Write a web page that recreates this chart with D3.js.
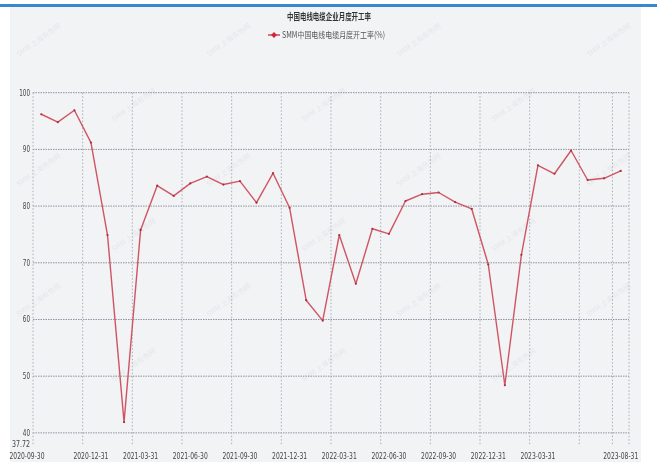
<!DOCTYPE html>
<html><head><meta charset="utf-8">
<script src="https://cdn.jsdelivr.net/npm/d3@7"></script>
<style>body{margin:0;background:#fff}svg{display:block}</style>
</head><body><div id="c"></div>
<script>
const title = "中国电线电缆企业月度开工率";
const seriesName = "SMM中国电线电缆月度开工率(%)";
const categories = ["2020-09-30","2020-10-31","2020-11-30","2020-12-31","2021-01-31","2021-02-28","2021-03-31","2021-04-30","2021-05-31","2021-06-30","2021-07-31","2021-08-31","2021-09-30","2021-10-31","2021-11-30","2021-12-31","2022-01-31","2022-02-28","2022-03-31","2022-04-30","2022-05-31","2022-06-30","2022-07-31","2022-08-31","2022-09-30","2022-10-31","2022-11-30","2022-12-31","2023-01-31","2023-02-28","2023-03-31","2023-04-30","2023-05-31","2023-06-30","2023-07-31","2023-08-31"];
const values = [96.2,94.8,96.9,91.2,74.9,41.9,75.8,83.6,81.8,84.0,85.2,83.8,84.4,80.6,85.8,79.7,63.4,59.8,74.9,66.3,76.0,75.1,80.9,82.1,82.4,80.7,79.5,69.7,48.4,71.4,87.2,85.7,89.8,84.6,84.9,86.2];
const gridCats = ["2020-09-30","2020-12-31","2021-03-31","2021-06-30","2021-09-30","2021-12-31","2022-03-31","2022-06-30","2022-09-30","2022-12-31","2023-03-31","2023-06-30","2023-08-31"];
const xTickLabels = ["2020-09-30","2020-12-31","2021-03-31","2021-06-30","2021-09-30","2021-12-31","2022-03-31","2022-06-30","2022-09-30","2022-12-31","2023-03-31","2023-08-31"];
const yTicks = [40,50,60,70,80,90,100];
const yMin = 37.72, yMax = 100;

const W = 657, H = 462;
const svg = d3.select("#c").append("svg").attr("width", W).attr("height", H);
svg.append("rect").attr("x",0).attr("y",0).attr("width",W).attr("height",H).attr("fill","#fff");
svg.append("rect").attr("x",10).attr("y",7).attr("width",631).attr("height",H-7).attr("fill","#f2f3f5");
svg.append("rect").attr("x",0).attr("y",4).attr("width",W).attr("height",3).attr("fill","#3b87cf");

const plot = {l:33, r:629, t:92.7, b:445.8};
const x = d3.scaleBand().domain(categories).range([plot.l, plot.r]).padding(0);
const y = d3.scaleLinear().domain([yMin, yMax]).range([plot.b, plot.t]);
const cx = c => x(c) + x.bandwidth()/2;

// faint watermarks
const wm = svg.append("g").attr("fill","#d6d8de").attr("opacity",0.5)
  .attr("font-family","Noto Sans CJK SC").attr("font-size",7);
for (let i=0;i<7;i++){
  for (let j=0;j<4;j++){
    const wx = 40 + 95*i, wy = 42 + 130*j + (i%2)*65;
    if (wy > 420) continue;
    wm.append("text").attr("transform",`translate(${wx},${wy}) rotate(-35)`)
      .attr("text-anchor","middle").text("SMM 上海有色网");
  }
}

const gH = svg.append("g");
yTicks.forEach(t=>{
  gH.append("line").attr("x1",plot.l).attr("x2",plot.r).attr("y1",y(t)).attr("y2",y(t))
    .attr("stroke","#8e93a3").attr("stroke-width",1).attr("stroke-dasharray","1.5,1");
});
const gV = svg.append("g");
gridCats.forEach(c=>{
  gV.append("line").attr("x1",x(c)).attr("x2",x(c)).attr("y1",plot.t).attr("y2",plot.b)
    .attr("stroke","#a9adb8").attr("stroke-width",1).attr("stroke-dasharray","1.5,2");
});
gV.append("line").attr("x1",plot.r).attr("x2",plot.r).attr("y1",plot.t).attr("y2",plot.b)
  .attr("stroke","#a9adb8").attr("stroke-width",1).attr("stroke-dasharray","1.5,2");

const yl = svg.append("g").attr("font-family","DejaVu Sans").attr("fill","#444");
yTicks.forEach(t=>{
  const s = String(t);
  yl.append("text").attr("x",30).attr("y",y(t)+3).attr("text-anchor","end").attr("font-size",9)
    .attr("textLength", s.length*3.6).attr("lengthAdjust","spacingAndGlyphs").text(s);
});
yl.append("text").attr("x",30).attr("y",y(yMin)+1.5).attr("text-anchor","end").attr("font-size",8)
  .attr("textLength",18).attr("lengthAdjust","spacingAndGlyphs").text(String(yMin));

const xl = svg.append("g").attr("font-family","DejaVu Sans").attr("font-size",9).attr("fill","#444");
xTickLabels.forEach((c,i)=>{
  let px = cx(c);
  if (i===0) px = 27;
  xl.append("text").attr("x",px).attr("y",459).attr("text-anchor","middle")
    .attr("textLength",35).attr("lengthAdjust","spacingAndGlyphs").text(c);
});

const col = "#c8404f";
const line = d3.line().x((d,i)=>cx(categories[i])).y(d=>y(d));
svg.append("path").datum(values).attr("d",line).attr("fill","none")
  .attr("stroke","#cf5563").attr("stroke-width",1.4).attr("stroke-linejoin","round");
svg.append("g").selectAll("circle").data(values).join("circle")
  .attr("cx",(d,i)=>cx(categories[i])).attr("cy",d=>y(d)).attr("r",1.1).attr("fill","#a8303e");

svg.append("text").attr("x",329).attr("y",20).attr("text-anchor","middle")
  .attr("font-family","Noto Sans CJK SC").attr("font-weight","bold").attr("font-size",9)
  .attr("fill","#333").attr("textLength",84).attr("lengthAdjust","spacingAndGlyphs").text(title);

const lg = svg.append("g");
lg.append("line").attr("x1",268).attr("x2",280).attr("y1",35).attr("y2",35).attr("stroke",col).attr("stroke-width",1.4);
lg.append("path").attr("d",d3.symbol(d3.symbolDiamond2,22)()).attr("transform","translate(274,35)").attr("fill","#d0243a");
lg.append("text").attr("x",282).attr("y",38).attr("font-family","Noto Sans CJK SC").attr("font-size",8.5)
  .attr("fill","#555").attr("textLength",103).attr("lengthAdjust","spacingAndGlyphs").text(seriesName);
</script></body></html>
